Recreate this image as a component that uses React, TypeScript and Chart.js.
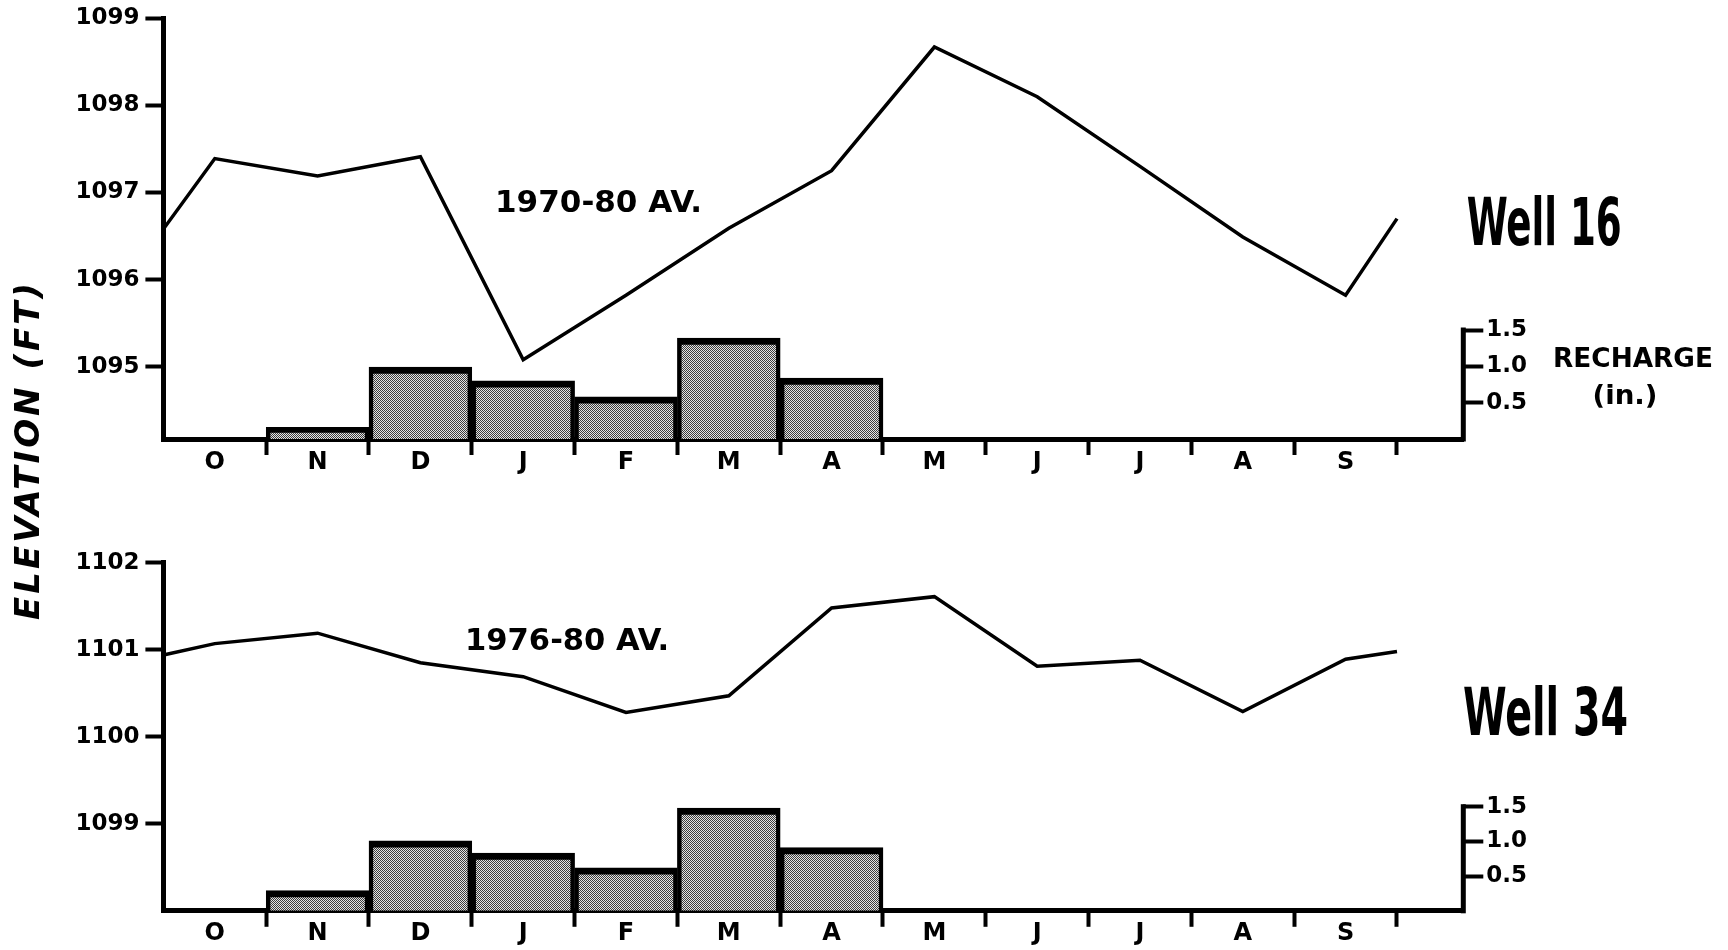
import React, { useEffect, useRef } from 'react';
import { Chart, registerables } from 'chart.js';

Chart.register(...registerables);

// ---------- data ----------
const months = ['O', 'N', 'D', 'J', 'F', 'M', 'A', 'M', 'J', 'J', 'A', 'S'];
// line vertices: start of water year, mid-month values, end of water year (in months from Oct 1)
const lineMonthPos = [0, 0.5, 1.5, 2.5, 3.5, 4.5, 5.5, 6.5, 7.5, 8.5, 9.5, 10.5, 11.5, 12];
const well16Elevation = [1096.58, 1097.39, 1097.19, 1097.41, 1095.08, 1095.82, 1096.59, 1097.25, 1098.67, 1098.1, 1097.3, 1096.49, 1095.82, 1096.7];
const well34Elevation = [1100.94, 1101.07, 1101.19, 1100.85, 1100.69, 1100.28, 1100.47, 1101.48, 1101.61, 1100.81, 1100.88, 1100.29, 1100.89, 1100.98];
const well16Recharge = [0, 0.16, 0.99, 0.8, 0.58, 1.39, 0.84, 0, 0, 0, 0, 0];
const well34Recharge = [0, 0.29, 1.01, 0.83, 0.62, 1.48, 0.91, 0, 0, 0, 0, 0];
const well16ElevTicks = [1095, 1096, 1097, 1098, 1099];
const well34ElevTicks = [1099, 1100, 1101, 1102];
const rechargeTicks = [0.5, 1.0, 1.5];

// ---------- layout ----------
const W = 1728;
const H = 950;
const LEFT_W = 163.4;
const RIGHT_W = 264.7;
const X_MAX = 12.645;

const TICK_FONT = { family: '"DejaVu Sans", "Liberation Sans", sans-serif', weight: 'bold' as const, size: 23 };
const MONTH_FONT = { family: '"DejaVu Sans", "Liberation Sans", sans-serif', weight: 'bold' as const, size: 24 };

type Annot = {
  text: string;
  font: string;
  x: number;
  y: number;
  w: number;
  align?: 'left' | 'center';
  baseline?: CanvasTextBaseline;
  rotate?: number;
  mode?: 'scale' | 'spacing';
};

const CONDENSED = '"Liberation Sans Narrow", "DejaVu Sans Condensed", "DejaVu Sans", sans-serif';

const topAnnots: Annot[] = [
  { text: '1970-80 AV.', font: 'bold 31px "DejaVu Sans"', x: 495, y: 211.7, w: 207 },
  { text: 'Well 16', font: `bold 66px ${CONDENSED}`, x: 1466.7, y: 245, w: 155 },
  { text: 'RECHARGE', font: 'bold 27px "DejaVu Sans"', x: 1633, y: 366.7, w: 160, align: 'center' },
  { text: '(in.)', font: 'bold 27px "DejaVu Sans"', x: 1625, y: 403.5, w: 65, align: 'center' },
];
const bottomAnnots: Annot[] = [
  { text: '1976-80 AV.', font: 'bold 31px "DejaVu Sans"', x: 465, y: 650, w: 204 },
  { text: 'Well 34', font: `bold 66px ${CONDENSED}`, x: 1463, y: 735, w: 165 },
  {
    text: 'ELEVATION (FT)',
    font: 'italic bold 34px "DejaVu Sans"',
    x: 30,
    y: 451.5,
    w: 337,
    align: 'center',
    baseline: 'middle',
    rotate: -Math.PI / 2,
    mode: 'spacing',
  },
];

function drawFitted(ctx: CanvasRenderingContext2D, it: Annot) {
  ctx.save();
  ctx.font = it.font;
  ctx.fillStyle = '#000';
  ctx.textBaseline = it.baseline || 'alphabetic';
  ctx.textAlign = 'left';
  ctx.translate(it.x, it.y);
  if (it.rotate) ctx.rotate(it.rotate);
  const w = ctx.measureText(it.text).width;
  if (it.mode === 'spacing') {
    const ls = (it.w - w) / Math.max(1, it.text.length - 1);
    (ctx as any).letterSpacing = ls + 'px';
    const x0 = it.align === 'center' ? -it.w / 2 : 0;
    ctx.fillText(it.text, x0, 0);
  } else {
    const s = it.w / w;
    ctx.scale(s, 1);
    const x0 = it.align === 'center' ? -w / 2 : 0;
    ctx.fillText(it.text, x0, 0);
  }
  ctx.restore();
}

const annotPlugin = {
  id: 'annot',
  afterDraw(chart: any, _args: any, opts: any) {
    const ctx = chart.ctx as CanvasRenderingContext2D;
    (opts.items || []).forEach((it: Annot) => drawFitted(ctx, it));
  },
};

// partial right-hand recharge axis (0 .. top tick)
const rechargeAxisPlugin = {
  id: 'rechargeAxis',
  afterDatasetsDraw(chart: any) {
    const r = chart.scales.r;
    if (!r) return;
    const ctx = chart.ctx as CanvasRenderingContext2D;
    const x = chart.chartArea.right;
    const y0 = r.getPixelForValue(0);
    const y1 = r.getPixelForValue(rechargeTicks[rechargeTicks.length - 1]);
    ctx.save();
    ctx.strokeStyle = '#000';
    ctx.lineWidth = 5;
    ctx.lineCap = 'square';
    ctx.beginPath();
    ctx.moveTo(x, y0);
    ctx.lineTo(x, y1);
    ctx.stroke();
    ctx.restore();
  },
};

function makePattern(): CanvasPattern | string {
  const c = document.createElement('canvas');
  c.width = 4;
  c.height = 4;
  const g = c.getContext('2d');
  if (!g) return '#9a9a9a';
  g.fillStyle = '#e4e4e4';
  g.fillRect(0, 0, 4, 4);
  g.fillStyle = '#3c3c3c';
  for (let yy = 0; yy < 4; yy++) {
    for (let xx = 0; xx < 4; xx++) {
      if ((xx + yy) % 2 === 0) g.fillRect(xx, yy, 1, 1);
    }
  }
  return g.createPattern(c, 'repeat') || '#9a9a9a';
}

type PanelCfg = {
  elevation: number[];
  recharge: number[];
  elevTicks: number[];
  yMin: number;
  yMax: number;
  rMax: number;
  padTop: number;
  padBottom: number;
  xAxisH: number;
  annots: Annot[];
};

const zeroPadding = (s: any) => {
  s.paddingTop = 0;
  s.paddingBottom = 0;
  s.paddingLeft = 0;
  s.paddingRight = 0;
};

function buildChart(canvas: HTMLCanvasElement, cfg: PanelCfg) {
  const pattern = makePattern();
  const xTickValues: number[] = [];
  for (let i = 0; i <= months.length * 2; i++) xTickValues.push(i / 2);

  return new Chart(canvas, {
    type: 'bar',
    data: {
      datasets: [
        {
          type: 'line',
          data: lineMonthPos.map((x, i) => ({ x, y: cfg.elevation[i] })),
          xAxisID: 'x',
          yAxisID: 'y',
          borderColor: '#000',
          borderWidth: 3.5,
          pointRadius: 0,
          tension: 0,
          fill: false,
        } as any,
        {
          type: 'bar',
          data: months.map((_, i) => ({ x: i + 0.5, y: cfg.recharge[i] })),
          xAxisID: 'x',
          yAxisID: 'r',
          backgroundColor: pattern as any,
          borderColor: '#000',
          borderWidth: { top: 7, left: 4.5, right: 4.5, bottom: 0 },
          borderSkipped: false,
          barThickness: 'flex',
          barPercentage: 1,
          categoryPercentage: 1,
        } as any,
      ],
    },
    options: {
      animation: false,
      responsive: false,
      devicePixelRatio: 1,
      events: [],
      layout: { padding: { top: cfg.padTop, bottom: cfg.padBottom, left: 0, right: 0 } },
      plugins: {
        legend: { display: false },
        tooltip: { enabled: false },
        title: { display: false },
        annot: { items: cfg.annots },
      } as any,
      scales: {
        x: {
          type: 'linear',
          position: 'bottom',
          offset: false,
          min: 0,
          max: X_MAX,
          afterBuildTicks: (s: any) => {
            s.ticks = xTickValues.map((v) => ({ value: v }));
          },
          afterFit: (s: any) => {
            s.height = cfg.xAxisH;
            zeroPadding(s);
          },
          ticks: {
            autoSkip: false,
            maxRotation: 0,
            minRotation: 0,
            padding: -7,
            color: '#000',
            font: MONTH_FONT,
            callback: (v: any) => {
              const n = Number(v);
              return Math.abs((n % 1) - 0.5) < 1e-6 ? months[Math.floor(n)] : '';
            },
          },
          grid: {
            offset: false,
            drawOnChartArea: false,
            drawTicks: true,
            tickLength: 16,
            tickWidth: 4,
            tickColor: (c: any) => {
              const v = c.tick ? c.tick.value : 0;
              return v > 0 && Math.abs(v % 1) < 1e-6 ? '#000' : 'rgba(0,0,0,0)';
            },
          },
          border: { display: true, color: '#000', width: 5 },
        } as any,
        y: {
          type: 'linear',
          position: 'left',
          min: cfg.yMin,
          max: cfg.yMax,
          afterBuildTicks: (s: any) => {
            s.ticks = cfg.elevTicks.map((v) => ({ value: v }));
          },
          afterFit: (s: any) => {
            s.width = LEFT_W;
            zeroPadding(s);
          },
          ticks: {
            color: '#000',
            font: TICK_FONT,
            padding: 6,
            callback: (v: any) => String(v),
          },
          grid: { drawOnChartArea: false, drawTicks: true, tickLength: 18, tickWidth: 4, tickColor: '#000' },
          border: { display: true, color: '#000', width: 5 },
        } as any,
        r: {
          type: 'linear',
          position: 'right',
          min: 0,
          max: cfg.rMax,
          afterBuildTicks: (s: any) => {
            s.ticks = rechargeTicks.map((v) => ({ value: v }));
          },
          afterFit: (s: any) => {
            s.width = RIGHT_W;
            zeroPadding(s);
          },
          ticks: {
            color: '#000',
            font: TICK_FONT,
            padding: 3,
            callback: (v: any) => Number(v).toFixed(1),
          },
          grid: { drawOnChartArea: false, drawTicks: true, tickLength: 20, tickWidth: 4, tickColor: '#000' },
          border: { display: false },
        } as any,
      },
    },
    plugins: [annotPlugin, rechargeAxisPlugin],
  });
}

const topCfg: PanelCfg = {
  elevation: well16Elevation,
  recharge: well16Recharge,
  elevTicks: well16ElevTicks,
  yMin: 1094.17,
  yMax: 1099,
  rMax: 5.79,
  padTop: 18.3,
  padBottom: H - 439 - 40,
  xAxisH: 40,
  annots: topAnnots,
};

const bottomCfg: PanelCfg = {
  elevation: well34Elevation,
  recharge: well34Recharge,
  elevTicks: well34ElevTicks,
  yMin: 1098.0,
  yMax: 1102,
  rMax: 5.016,
  padTop: 562.7,
  padBottom: 0,
  xAxisH: H - 910.8,
  annots: bottomAnnots,
};

export default function App() {
  const topRef = useRef<HTMLCanvasElement | null>(null);
  const botRef = useRef<HTMLCanvasElement | null>(null);

  useEffect(() => {
    const charts: Chart[] = [];
    if (topRef.current) charts.push(buildChart(topRef.current, topCfg));
    if (botRef.current) charts.push(buildChart(botRef.current, bottomCfg));
    return () => charts.forEach((c) => c.destroy());
  }, []);

  const canvasStyle: React.CSSProperties = { position: 'absolute', left: 0, top: 0, width: W, height: H };
  return (
    <div style={{ position: 'absolute', left: 0, top: 0, width: W, height: H, background: '#fff', overflow: 'hidden' }}>
      <canvas ref={topRef} width={W} height={H} style={canvasStyle} />
      <canvas ref={botRef} width={W} height={H} style={canvasStyle} />
    </div>
  );
}
